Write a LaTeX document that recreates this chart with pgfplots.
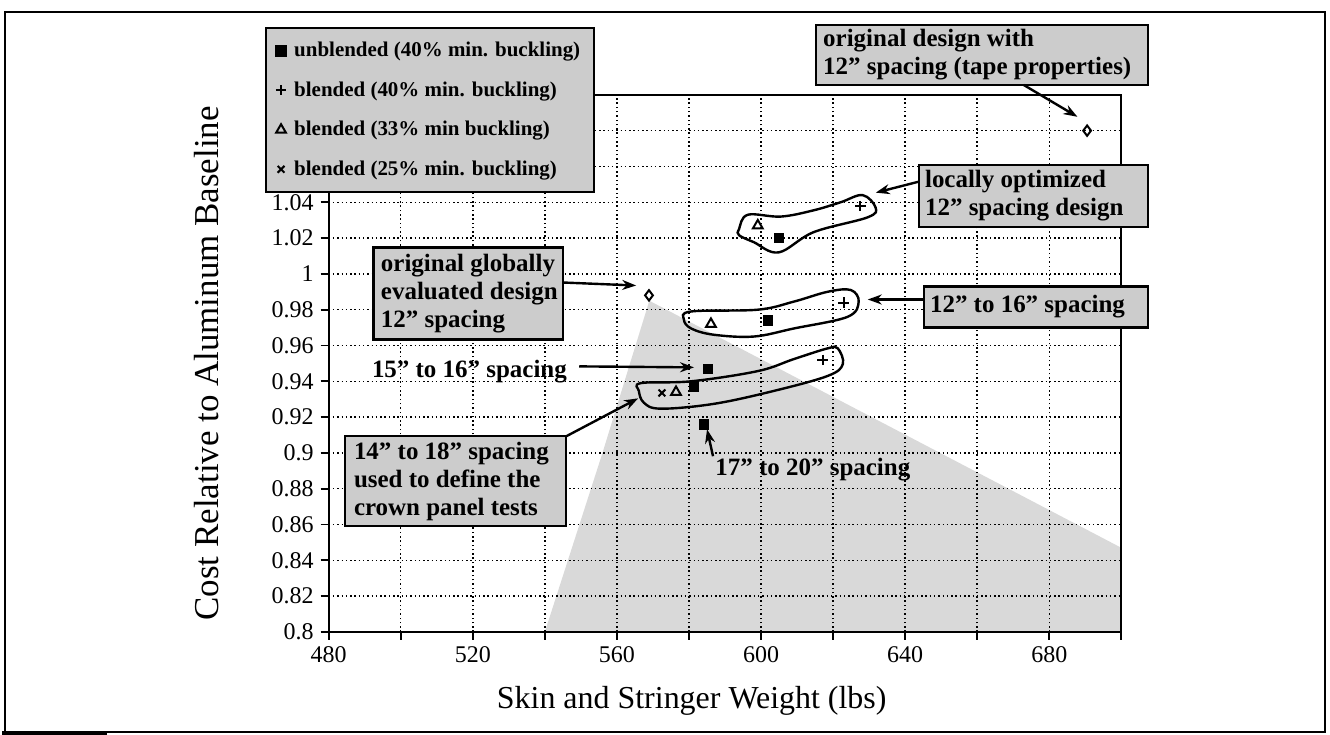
\documentclass[border=0pt]{standalone}
\usepackage{fontspec}
\setmainfont{Liberation Serif}
\usepackage{pgfplots}
\pgfplotsset{compat=1.18}
\usetikzlibrary{arrows.meta}
\definecolor{boxgray}{gray}{0.80}
\definecolor{regiongray}{gray}{0.85}
\newcommand{\annot}{\bfseries\fontsize{12.5}{14}\selectfont}
\begin{document}
\begin{tikzpicture}
\begin{scope}[x=0.5pt,y=-0.5pt,shift={(-163.5pt,316.5pt)}]
\useasboundingbox (0,0) rectangle (1330,736);
\end{scope}
\begin{axis}[
  set layers,
  scale only axis, width=397pt, height=269pt,
  xmin=480, xmax=700, ymin=0.8, ymax=1.1,
  xtick={480,500,...,700},
  xticklabels={480,,520,,560,,600,,640,,680,},
  ytick={0.8,0.82,0.84,0.86,0.88,0.9,0.92,0.94,0.96,0.98,1,1.02,1.04,1.06,1.08,1.1},
  yticklabels={0.8,0.82,0.84,0.86,0.88,0.9,0.92,0.94,0.96,0.98,1,1.02,1.04,,,},
  tick pos=left, tick align=outside, major tick length=4pt,
  tick style={black, line width=0.9pt},
  axis line style={line width=1.1pt},
  grid=major,
  major grid style={black, line width=0.75pt, dash pattern=on 0.75pt off 1.4pt},
  ticklabel style={font=\fontsize{12}{14}\selectfont},
  /pgf/number format/assume math mode=true,
  xlabel={Skin and Stringer Weight (lbs)},
  ylabel={Cost Relative to Aluminum Baseline},
  xlabel style={font=\fontsize{16}{18}\selectfont, at={(axis description cs:0.458,-0.128)}, anchor=center},
  ylabel style={font=\fontsize{17.5}{19}\selectfont, at={(axis description cs:-0.154,0.5)}, anchor=center},
  legend style={at={(axis description cs:-0.0806,1.1264)}, anchor=north west,
    fill=boxgray, draw=black, line width=1.1pt,
    font=\bfseries\fontsize{10.5}{12}\selectfont,
    row sep=7pt, inner xsep=5pt, inner ysep=5pt},
  legend cell align=left,
  clip=false,
]
% shaded region
\addplot[forget plot, draw=none, fill=regiongray, on layer=axis background]
  coordinates {(540,0.8) (556,0.9) (569,0.985) (700,0.847) (700,0.8)} -- cycle;

\addplot[only marks, mark=square*, mark size=2.4pt, black]
  coordinates {(604.9,1.020) (601.9,0.974) (585.3,0.947) (581.4,0.937) (584.2,0.916)};
\addlegendentry{\hspace{2pt}unblended (40\% min. buckling)}
\addplot[only marks, mark=+, mark size=2.6pt, black, mark options={line width=1pt}]
  coordinates {(627.6,1.038) (622.9,0.984) (617.1,0.952)};
\addlegendentry{\hspace{2pt}blended (40\% min. buckling)}
\addplot[only marks, mark=triangle, mark size=2.8pt, black, mark options={line width=1pt}]
  coordinates {(599.1,1.027) (586.1,0.972) (576.4,0.934)};
\addlegendentry{\hspace{2pt}blended (33\% min buckling)}
\addplot[only marks, mark=x, mark size=2.4pt, black, mark options={line width=1pt}]
  coordinates {(572.5,0.9335)};
\addlegendentry{\hspace{2pt}blended (25\% min. buckling)}
\addplot[forget plot, only marks, mark=diamond, mark size=2.6pt, black, mark options={line width=1pt}]
  coordinates {(690.5,1.08) (568.9,0.988)};

% loops
\draw[line width=1.2pt] plot[smooth cycle, tension=0.6] coordinates {
 (axis cs:593.9,1.025) (axis cs:596.3,1.033) (axis cs:605.5,1.032) (axis cs:614.6,1.0355)
 (axis cs:622.1,1.040) (axis cs:628.2,1.044) (axis cs:631.8,1.037) (axis cs:629.6,1.0316)
 (axis cs:614.6,1.0233) (axis cs:604.9,1.012) (axis cs:598.0,1.0177) (axis cs:593.9,1.0216)};
\draw[line width=1.2pt] plot[smooth cycle, tension=0.6] coordinates {
 (axis cs:578.6,0.9745) (axis cs:580.6,0.979) (axis cs:599.1,0.980) (axis cs:609.1,0.9845)
 (axis cs:618.5,0.990) (axis cs:624.9,0.991) (axis cs:627.1,0.9845) (axis cs:624.0,0.976)
 (axis cs:609.1,0.9695) (axis cs:598.0,0.965) (axis cs:586.9,0.966) (axis cs:580.6,0.9695)};
\draw[line width=1.2pt] plot[smooth cycle, tension=0.6] coordinates {
 (axis cs:566.7,0.939) (axis cs:580.6,0.940) (axis cs:599.1,0.9457) (axis cs:609.1,0.9524)
 (axis cs:618.5,0.9584) (axis cs:621.3,0.9584) (axis cs:622.7,0.9496) (axis cs:618.5,0.943)
 (axis cs:603.5,0.9346) (axis cs:586.9,0.9274) (axis cs:572.2,0.9247) (axis cs:567.5,0.928)
 (axis cs:566.1,0.9346)};
\end{axis}
\begin{scope}[x=0.5pt,y=-0.5pt,shift={(-163.5pt,316.5pt)}]
  % outer frame
  \draw[line width=1.1pt] (3,12) rectangle (1325,733);
  \draw[line width=2.2pt] (0,734) -- (105,734);
  % boxes
  \filldraw[fill=boxgray, line width=1.1pt] (815,25) rectangle (1148,85);
  \node[anchor=west, align=left, font=\annot, inner sep=0pt] at (822,55)
    {original design with\\12" spacing (tape properties)};
  \filldraw[fill=boxgray, line width=1.1pt] (918,165) rectangle (1148,227);
  \node[anchor=west, align=left, font=\annot, inner sep=0pt] at (924,196)
    {locally optimized\\12" spacing design};
  \filldraw[fill=boxgray, line width=1.1pt] (923,287) rectangle (1148,328);
  \node[anchor=west, align=left, font=\annot, inner sep=0pt] at (929,307.5)
    {12" to 16" spacing};
  \filldraw[fill=boxgray, line width=1.1pt] (372,248) rectangle (562,340);
  \node[anchor=west, align=left, font=\annot, inner sep=0pt] at (379,294)
    {original globally\\evaluated design\\12" spacing};
  \filldraw[fill=boxgray, line width=1.1pt] (343,437) rectangle (565,527);
  \node[anchor=west, align=left, font=\annot, inner sep=0pt] at (352,482)
    {14" to 18" spacing\\used to define the\\crown panel tests};
  \node[font=\annot, inner sep=0pt] at (468,372) {15" to 16" spacing};
  \node[font=\annot, inner sep=0pt] at (812,470) {17" to 20" spacing};
  % arrows
  \begin{scope}[line width=1.2pt, -{Stealth[length=7pt,width=5pt]}]
  \draw (1023,85) -- (1077,117);
  \draw (918,182) -- (875,193);
  \draw (923,300) -- (867,300);
  \draw (562,283) -- (635,286);
  \draw (578,367) -- (693,368);
  \draw (565,437) -- (637,399);
  \draw (712,457) -- (706,430);
  \end{scope}
\end{scope}
\end{tikzpicture}
\end{document}
